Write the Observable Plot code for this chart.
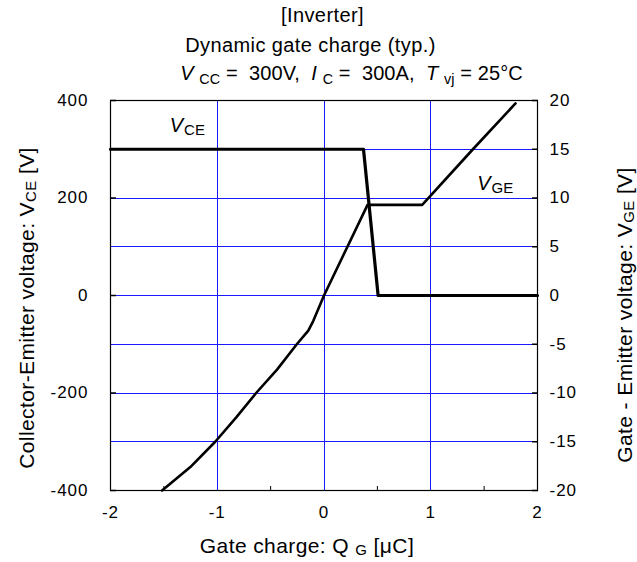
<!DOCTYPE html>
<html><head><meta charset="utf-8">
<script src="https://cdn.jsdelivr.net/npm/d3@7"></script>
<script src="https://cdn.jsdelivr.net/npm/@observablehq/plot@0.6"></script>
<style>
body{margin:0;background:#fff;font-family:"Liberation Sans",Arial,sans-serif;color:#000}
#wrap{position:relative;width:637px;height:562px;overflow:hidden;background:#fff}
.t{position:absolute;left:0;width:637px;text-align:center;font-size:20px;line-height:22px;white-space:pre;letter-spacing:0.4px}
.t sub{font-size:0.72em;vertical-align:-0.3em;line-height:0}
#chart{position:absolute;left:0;top:88px}
</style></head><body>
<div id="wrap">
<div class="t" style="top:4px;transform:translateX(4px)">[Inverter]</div>
<div class="t" style="top:34px;transform:translateX(-8px)">Dynamic gate charge (typ.)</div>
<div class="t" style="top:62px;transform:translateX(33px);letter-spacing:0.1px"><i>V</i> <sub>CC</sub> =  300V,  <i>I</i> <sub>C</sub> =  300A,  <i>T</i> <sub>vj</sub> = 25°C</div>
<div id="chart"></div>
</div>
<script>
// ---- data ----
const qgVce = [-2, 0.37, 0.507, 2];
const vce = [300, 300, 0, 0];
const qgVge = [-1.517, -1.252, -1.019, -0.822, -0.636, -0.44, -0.255, -0.147, -0.1, 0, 0.408, 0.92, 1.395, 1.794];
const vge = [-20, -17.6, -15, -12.5, -10, -7.6, -5, -3.6, -2.6, 0, 9.3, 9.3, 15, 19.7];
const xTicks = [-2, -1, 0, 1, 2];
const xMinorTicks = [-1.5, -0.5, 0.5, 1.5];
const vceTicks = [-400, -200, 0, 200, 400];
const vgeTicks = [-20, -15, -10, -5, 0, 5, 10, 15, 20];
const gridQ = [-1, 0, 1];
const gridV = [-300, -200, -100, 0, 100, 200, 300];
const vgeFactor = 20; // 400 V (left) == 20 V (right)
const labels = [
  {name: "V", sub: "CE", q: -1.44, v: 334},
  {name: "V", sub: "GE", q: 1.44, v: 216}
];

const vceData = qgVce.map((q, i) => ({q, v: vce[i]}));
const vgeData = qgVge.map((q, i) => ({q, v: vge[i]}));
const gridColor = "#1a1aff";
const font = "'Liberation Sans', Arial, sans-serif";

const plot = Plot.plot({
  width: 637,
  height: 474,
  marginTop: 12,
  marginBottom: 72,
  marginLeft: 110,
  marginRight: 100,
  style: {fontFamily: font, fontSize: "17px", background: "white", color: "black", letterSpacing: "1px"},
  x: {domain: [-2, 2]},
  y: {domain: [-400, 400]},
  marks: [
    Plot.ruleY(gridV, {stroke: gridColor, strokeWidth: 1, shapeRendering: "crispEdges"}),
    Plot.ruleX(gridQ, {stroke: gridColor, strokeWidth: 1, shapeRendering: "crispEdges"}),
    Plot.frame({stroke: "black", strokeWidth: 1.2}),
    Plot.axisX(xMinorTicks, {tickSize: -4, fill: "none", label: null}),
    Plot.axisX(xTicks, {tickSize: 0, tickPadding: 15, label: null, tickFormat: d => String(d)}),
    Plot.axisY(vceTicks, {anchor: "left", tickSize: -6, fill: "none", label: null, strokeWidth: 1.5}),
    Plot.axisY(vceTicks, {anchor: "left", tickSize: 0, tickPadding: 22, label: null, tickFormat: d => String(d)}),
    Plot.axisY(vgeTicks.map(v => v * vgeFactor), {anchor: "right", tickSize: -6, fill: "none", label: null, strokeWidth: 1.5}),
    Plot.axisY(vgeTicks.map(v => v * vgeFactor), {anchor: "right", tickSize: 0, tickPadding: 12, label: null, tickFormat: d => String(d / vgeFactor)}),
    Plot.line(vgeData, {x: "q", y: d => d.v * vgeFactor, stroke: "black", strokeWidth: 2.6}),
    Plot.line(vceData, {x: "q", y: "v", stroke: "black", strokeWidth: 3.2})
  ]
});
document.getElementById("chart").appendChild(plot);

const svg = d3.select(plot);
const sx = plot.scale("x"), sy = plot.scale("y");

// in-plot series labels
labels.forEach(l => {
  const t = svg.append("text")
    .attr("x", sx.apply(l.q)).attr("y", sy.apply(l.v))
    .attr("text-anchor", "start")
    .attr("font-family", font).attr("font-size", 20).attr("letter-spacing", "0px");
  t.append("tspan").attr("font-style", "italic").text(l.name);
  t.append("tspan").attr("font-size", 15).attr("dy", 3).attr("dx", 1).text(l.sub);
});

// axis titles
function axisTitle(x, y, rot, parts) {
  const t = svg.append("text")
    .attr("transform", `translate(${x},${y}) rotate(${rot})`)
    .attr("text-anchor", "middle")
    .attr("dominant-baseline", "middle")
    .attr("font-family", font).attr("font-size", 21).attr("letter-spacing", "0.4px");
  parts.forEach(p => {
    const s = t.append("tspan").text(p.text);
    if (p.sub) s.attr("font-size", 15).attr("dy", 4);
    if (p.after) s.attr("dy", -4);
  });
}
axisTitle(28, 220, -90, [{text: "Collector-Emitter voltage: V"}, {text: "CE", sub: true}, {text: " [V]", after: true}]);
axisTitle(626, 227, -90, [{text: "Gate - Emitter voltage: V"}, {text: "GE", sub: true}, {text: " [V]", after: true}]);
axisTitle(307, 459, 0, [{text: "Gate charge: Q "}, {text: "G", sub: true}, {text: " [μC]", after: true}]);
</script>
</body></html>
